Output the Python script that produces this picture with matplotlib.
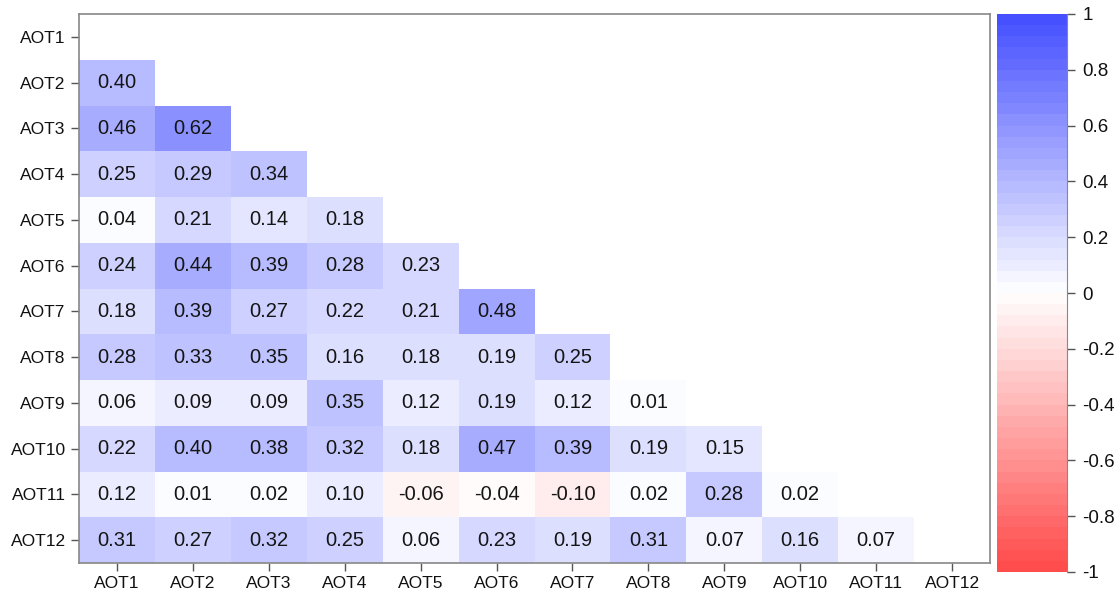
import numpy as np
import matplotlib
matplotlib.use("Agg")
import matplotlib.pyplot as plt
from matplotlib.colors import LinearSegmentedColormap, ListedColormap, BoundaryNorm

plt.rcParams['font.family'] = ['Liberation Sans', 'DejaVu Sans']

labels = [f"AOT{i}" for i in range(1, 13)]
rows = [
    [],
    [0.40],
    [0.46, 0.62],
    [0.25, 0.29, 0.34],
    [0.04, 0.21, 0.14, 0.18],
    [0.24, 0.44, 0.39, 0.28, 0.23],
    [0.18, 0.39, 0.27, 0.22, 0.21, 0.48],
    [0.28, 0.33, 0.35, 0.16, 0.18, 0.19, 0.25],
    [0.06, 0.09, 0.09, 0.35, 0.12, 0.19, 0.12, 0.01],
    [0.22, 0.40, 0.38, 0.32, 0.18, 0.47, 0.39, 0.19, 0.15],
    [0.12, 0.01, 0.02, 0.10, -0.06, -0.04, -0.10, 0.02, 0.28, 0.02],
    [0.31, 0.27, 0.32, 0.25, 0.06, 0.23, 0.19, 0.31, 0.07, 0.16, 0.07],
]
cbar_ticks = [-1, -0.8, -0.6, -0.4, -0.2, 0, 0.2, 0.4, 0.6, 0.8, 1]

n = len(labels)
M = np.full((n, n), np.nan)
for i, r in enumerate(rows):
    for j, v in enumerate(r):
        M[i, j] = v

base = LinearSegmentedColormap.from_list(
    "rwb", [(0.0, "#FF4C4C"), (0.5, "#FFFFFF"), (1.0, "#4650FF")])
nlev = 50
cmap = ListedColormap(base(np.linspace(0, 1, nlev)))
bounds = np.linspace(-1, 1, nlev + 1)
norm = BoundaryNorm(bounds, cmap.N)

fig = plt.figure(figsize=(11.14, 5.90), dpi=100)
ax = fig.add_axes([79/1114, 1 - 563/590, (990-79)/1114, (563-14)/590])
masked = np.ma.masked_invalid(M)
ax.pcolormesh(np.arange(n + 1) - 0.5, np.arange(n + 1) - 0.5, masked,
              cmap=cmap, norm=norm, shading='flat')
ax.set_xlim(-0.5, n - 0.5)
ax.set_ylim(n - 0.5, -0.5)
for i in range(n):
    for j in range(n):
        if not np.isnan(M[i, j]):
            ax.text(j, i, f"{M[i, j]:.2f}", ha='center', va='center',
                    fontsize=14.5, color='#151515')
ax.set_xticks(range(n))
ax.set_xticklabels(labels, fontsize=12.5)
ax.set_yticks(range(n))
ax.set_yticklabels(labels, fontsize=12.5)
for s in ax.spines.values():
    s.set_color('#888888')
    s.set_linewidth(1.2)
ax.tick_params(colors='#555555', labelcolor='#111111', length=6, width=1)

cax = fig.add_axes([997/1114, 1 - 572/590, (1067-997)/1114, (572-14)/590])
grad = np.linspace(-1, 1, 400).reshape(-1, 1)
cax.pcolormesh([0, 1], np.linspace(-1, 1, 401), grad, cmap=cmap, norm=norm, shading='flat')
cax.set_ylim(-1, 1)
cax.set_xlim(0, 1)
cax.set_xticks([])
cax.yaxis.tick_right()
cax.set_yticks(cbar_ticks)
cax.set_yticklabels([f"{t:g}" for t in cbar_ticks], fontsize=13.5)
for side in ['left', 'top', 'bottom']:
    cax.spines[side].set_visible(False)
cax.spines['right'].set_color('#888888')
cax.tick_params(axis='y', colors='#555555', labelcolor='#111111', length=6, width=1, pad=5)

fig.savefig("out.png", dpi=100)
